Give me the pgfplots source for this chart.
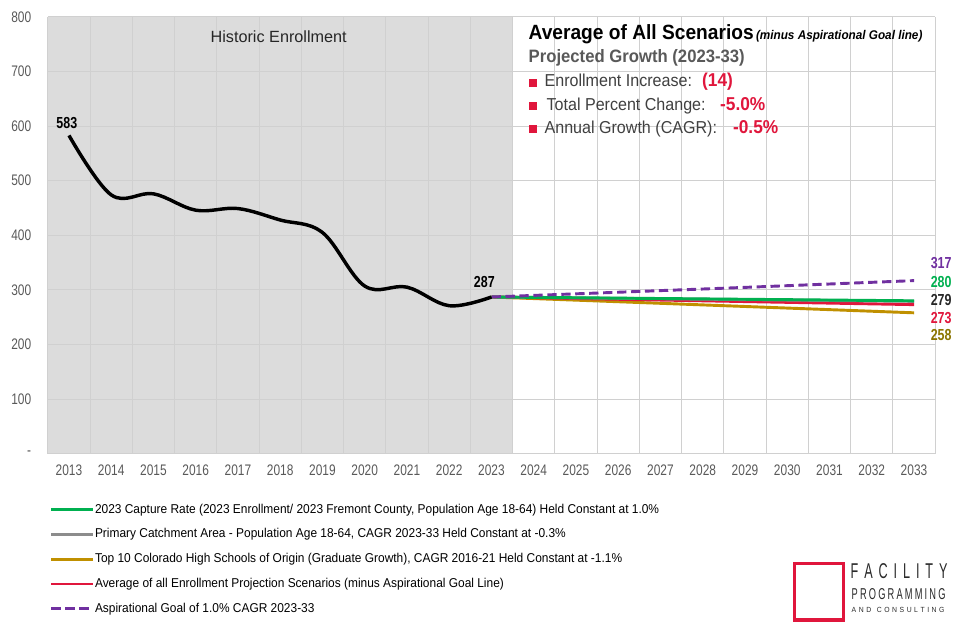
\documentclass[border=0pt]{standalone}
\usepackage{fontspec}
\setmainfont{Liberation Sans}
\newfontfamily\nar[FakeStretch=0.78]{Liberation Sans}
\newfontfamily\semi[FakeStretch=0.93]{Liberation Sans}
\newfontfamily\logo[FakeStretch=0.6]{Liberation Sans}
\usepackage{graphicx}
\usepackage{pgfplots}
\pgfplotsset{compat=1.18}
\definecolor{cgreen}{HTML}{00B050}
\definecolor{cgray}{HTML}{8C8C8C}
\definecolor{cgold}{HTML}{C09000}
\definecolor{cred}{HTML}{E0163C}
\definecolor{cpurple}{HTML}{7030A0}
\definecolor{shade}{HTML}{DCDCDC}
\definecolor{gridc}{HTML}{D0D0D0}
\definecolor{txt}{HTML}{404040}
\definecolor{ticktxt}{HTML}{595959}
\definecolor{olive}{HTML}{8B7500}
\definecolor{logotxt}{HTML}{2A2A2A}

\begin{document}
\begin{tikzpicture}
\begin{scope}[x=0.75pt,y=-0.75pt]
\path[use as bounding box] (0,0) rectangle (956,616);
\end{scope}
\begin{axis}[
  at={(36pt,-341.25pt)}, anchor=south west,
  scale only axis, width=667.5pt, height=328.5pt,
  set layers, clip=false,
  xmin=2012.5, xmax=2033.5, ymin=0, ymax=800,
  xtick={2013,2014,...,2033},
  minor xtick={2012.5,2013.5,...,2033.5},
  xminorgrids=true, ymajorgrids=true,
  ytick={0,100,...,800},
  yticklabels={-,100,200,300,400,500,600,700,800},
  major tick length=0pt, minor tick length=0pt,
  axis line style={draw=none},
  grid style={gridc, line width=0.8pt},
  minor grid style={gridc, line width=0.8pt},
  tick label style={font=\nar\fontsize{11.5pt}{12pt}\selectfont, text=ticktxt},
  /pgf/number format/assume math mode=true,
  /pgf/number format/1000 sep={},
  xticklabel style={yshift=-4.5pt},
  yticklabel style={xshift=-9pt},
  legend cell align=left,
  legend style={at={(0.002,-0.112)}, anchor=north west, draw=none, fill=none,
    font=\semi\fontsize{9.65pt}{10pt}\selectfont, text=black,
    row sep=8.1pt, inner xsep=0pt, inner ysep=0pt,
    nodes={inner sep=0.75pt, text height=7pt, text depth=2pt}},
  legend image code/.code={\draw[#1] (0pt,0pt) -- (31pt,0pt);},
]
\addplot[draw=none, fill=shade, on layer=axis background, forget plot]
  coordinates {(2012.5,0) (2012.5,800) (2023.5,800) (2023.5,0)} \closedcycle;

% legend in the reference's order
\addlegendimage{cgreen, line width=2.2pt}
\addlegendentry{2023 Capture Rate (2023 Enrollment/ 2023 Fremont County, Population Age 18-64) Held Constant at 1.0\%}
\addlegendimage{cgray, line width=2.2pt}
\addlegendentry{Primary Catchment Area - Population Age 18-64, CAGR 2023-33 Held Constant at -0.3\%}
\addlegendimage{cgold, line width=2.2pt}
\addlegendentry{Top 10 Colorado High Schools of Origin (Graduate Growth), CAGR 2016-21 Held Constant at -1.1\%}
\addlegendimage{cred, line width=2.2pt}
\addlegendentry{Average of all Enrollment Projection Scenarios (minus Aspirational Goal Line)}
\addlegendimage{cpurple, line width=2.2pt, dash pattern=on 7pt off 3.5pt}
\addlegendentry{Aspirational Goal of 1.0\% CAGR 2023-33}

% projections, drawn bottom to top
\addplot[cgold, line width=2.2pt, forget plot] coordinates {
  (2023,287) (2024,284.1) (2025,281.2) (2026,278.3) (2027,275.4) (2028,272.5)
  (2029,269.6) (2030,266.7) (2031,263.8) (2032,260.9) (2033,258)};
\addplot[cred, line width=2.2pt, forget plot] coordinates {
  (2023,287) (2024,285.6) (2025,284.2) (2026,282.8) (2027,281.4) (2028,280)
  (2029,278.6) (2030,277.2) (2031,275.8) (2032,274.4) (2033,273)};
\addplot[cgray, line width=2.2pt, forget plot] coordinates {
  (2023,287) (2024,286.2) (2025,285.4) (2026,284.6) (2027,283.8) (2028,283)
  (2029,282.2) (2030,281.4) (2031,280.6) (2032,279.8) (2033,279)};
\addplot[cgreen, line width=2.2pt, forget plot] coordinates {
  (2023,287) (2024,286.3) (2025,285.6) (2026,284.9) (2027,284.2) (2028,283.5)
  (2029,282.8) (2030,282.1) (2031,281.4) (2032,280.7) (2033,280)};
\addplot[cpurple, line width=2.2pt, dash pattern=on 7pt off 3.5pt, forget plot] coordinates {
  (2023,287) (2024,289.9) (2025,292.8) (2026,295.7) (2027,298.7) (2028,301.6)
  (2029,304.6) (2030,307.7) (2031,310.8) (2032,313.9) (2033,317)};

\addplot[black, line width=2.6pt, smooth, tension=0.6, forget plot] coordinates {
  (2013,583) (2014,474) (2015,476) (2016,446) (2017,449) (2018,428)
  (2019,405) (2020,307) (2021,305) (2022,271) (2023,287)};

\node[font=\nar\bfseries\fontsize{12pt}{12pt}\selectfont] at (axis cs:2012.95,605) {583};
\node[font=\nar\bfseries\fontsize{12pt}{12pt}\selectfont] at (axis cs:2022.83,314) {287};
\end{axis}

\begin{scope}[x=0.75pt,y=-0.75pt]
\node[anchor=base west, inner sep=0pt, text=black!85, font=\fontsize{12.2pt}{13pt}\selectfont] at (211,43) {Historic Enrollment};

\node[anchor=base west, inner sep=0pt, font=\semi\bfseries\fontsize{15.5pt}{16pt}\selectfont] at (530,40) {Average of All Scenarios};
\node[anchor=base west, inner sep=0pt, font=\semi\bfseries\itshape\fontsize{9.5pt}{10pt}\selectfont] at (758,40) {(minus Aspirational Goal line)};
\node[anchor=base west, inner sep=0pt, text=ticktxt, font=\semi\bfseries\fontsize{13.5pt}{14pt}\selectfont] at (530,63) {Projected Growth (2023-33)};

\fill[cred] (531,79) rectangle (539,87);
\fill[cred] (531,102) rectangle (539,110);
\fill[cred] (531,125) rectangle (539,133);
\node[anchor=base west, inner sep=0pt, text=txt, font=\semi\fontsize{13pt}{14pt}\selectfont] at (546,87) {Enrollment Increase:};
\node[anchor=base west, inner sep=0pt, text=txt, font=\semi\fontsize{13pt}{14pt}\selectfont] at (548,111) {Total Percent Change:};
\node[anchor=base west, inner sep=0pt, text=txt, font=\semi\fontsize{13pt}{14pt}\selectfont] at (546,134) {Annual Growth (CAGR):};
\node[anchor=base west, inner sep=0pt, text=cred, font=\semi\bfseries\fontsize{14pt}{14pt}\selectfont] at (704,87) {(14)};
\node[anchor=base west, inner sep=0pt, text=cred, font=\semi\bfseries\fontsize{14pt}{14pt}\selectfont] at (722,111) {-5.0\%};
\node[anchor=base west, inner sep=0pt, text=cred, font=\semi\bfseries\fontsize{14pt}{14pt}\selectfont] at (735,134) {-0.5\%};

\node[text=cpurple, font=\nar\bfseries\fontsize{12pt}{12pt}\selectfont] at (944,264) {317};
\node[text=cgreen, font=\nar\bfseries\fontsize{12pt}{12pt}\selectfont] at (944,283) {280};
\node[text=black!85, font=\nar\bfseries\fontsize{12pt}{12pt}\selectfont] at (944,301) {279};
\node[text=cred, font=\nar\bfseries\fontsize{12pt}{12pt}\selectfont] at (944,319) {273};
\node[text=olive, font=\nar\bfseries\fontsize{12pt}{12pt}\selectfont] at (944,336) {258};

\draw[cred, line width=2.6pt] (797,565) rectangle (846,622);
\node[anchor=west, inner sep=0pt, text=logotxt] at (853,572.5)
  {\resizebox{72.75pt}{11.25pt}{\logo F\hspace{0.28em}A\hspace{0.28em}C\hspace{0.28em}I\hspace{0.28em}L\hspace{0.28em}I\hspace{0.28em}T\hspace{0.28em}Y}};
\node[anchor=west, inner sep=0pt, text=logotxt] at (854,595.5)
  {\resizebox{70.5pt}{8.25pt}{\logo P\hspace{0.14em}R\hspace{0.14em}O\hspace{0.14em}G\hspace{0.14em}R\hspace{0.14em}A\hspace{0.14em}M\hspace{0.14em}M\hspace{0.14em}I\hspace{0.14em}N\hspace{0.14em}G}};
\node[anchor=west, inner sep=0pt, text=logotxt] at (854,611.5)
  {\resizebox{69.75pt}{3.9pt}{\logo A\hspace{0.22em}N\hspace{0.22em}D\hspace{0.5em}C\hspace{0.22em}O\hspace{0.22em}N\hspace{0.22em}S\hspace{0.22em}U\hspace{0.22em}L\hspace{0.22em}T\hspace{0.22em}I\hspace{0.22em}N\hspace{0.22em}G}};
\end{scope}
\end{tikzpicture}
\end{document}
